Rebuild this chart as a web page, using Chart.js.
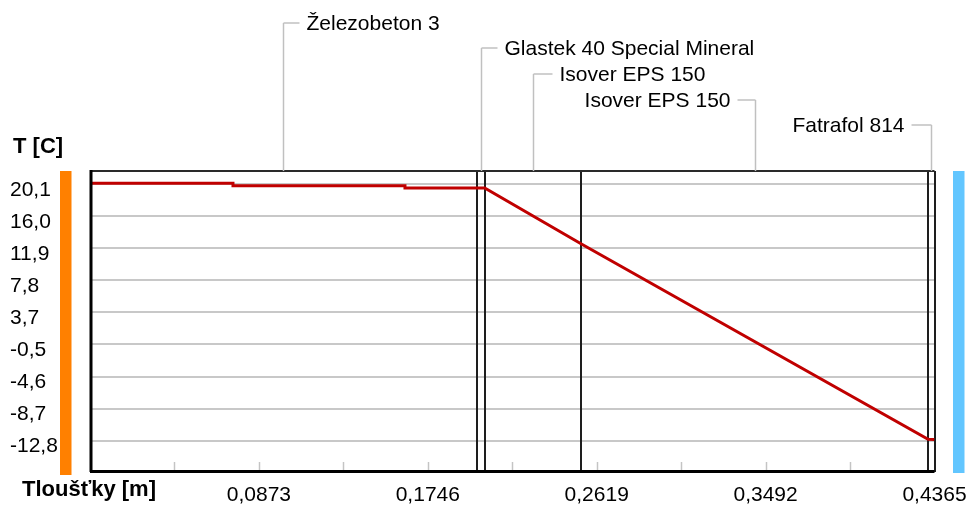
<!DOCTYPE html>
<html>
<head>
<meta charset="utf-8">
<script src="https://cdn.jsdelivr.net/npm/chart.js@4.4.1/dist/chart.umd.min.js"></script>
<style>
  html, body { margin: 0; padding: 0; background: #fff; }
  #wrap { width: 967px; height: 507px; }
</style>
</head>
<body>
<div id="wrap"><canvas id="profileChart" width="967" height="507"></canvas></div>
<script>
// Temperature profile through the wall layers

const layerNames = ['Železobeton 3', 'Glastek 40 Special Mineral', 'Isover EPS 150', 'Isover EPS 150', 'Fatrafol 814'];
const layerBounds = [0, 0.2, 0.204, 0.254, 0.4332, 0.4365];

const depth = [0, 0.0739, 0.0739, 0.1628, 0.1628, 0.204, 0.254, 0.4332, 0.4365];
const temperature = [20.18, 20.18, 19.87, 19.87, 19.57, 19.57, 12.4, -12.62, -12.65];

const xTickValues = [0.04365, 0.0873, 0.13095, 0.1746, 0.21825, 0.2619, 0.30555, 0.3492, 0.39285, 0.4365];
const xTickLabels = ['', '0,0873', '', '0,1746', '', '0,2619', '', '0,3492', '', '0,4365'];
const yTickValues = [20.1, 15.99, 11.88, 7.76, 3.65, -0.46, -4.58, -8.69, -12.8];
const yTickLabels = ['20,1', '16,0', '11,9', '7,8', '3,7', '-0,5', '-4,6', '-8,7', '-12,8'];

const FONT = "'Liberation Sans', Arial, sans-serif";
Chart.defaults.color = '#000';
Chart.defaults.font.family = FONT;

function seg(ctx, x1, y1, x2, y2) {
  ctx.beginPath();
  ctx.moveTo(x1, y1);
  ctx.lineTo(x2, y2);
  ctx.stroke();
}

const wallDecor = {
  id: 'wallDecor',
  beforeDatasetsDraw(chart) {
    const { ctx, chartArea: a, scales: { x } } = chart;
    ctx.save();
    // small ticks along the bottom edge
    ctx.strokeStyle = '#c4c4c4';
    ctx.lineWidth = 1.5;
    xTickValues.slice(0, -1).forEach(v => {
      const px = Math.round(x.getPixelForValue(v)) + 0.5;
      seg(ctx, px, a.bottom - 10, px, a.bottom);
    });
    // layer boundaries
    ctx.strokeStyle = '#1e1e1e';
    ctx.lineWidth = 2;
    layerBounds.slice(1).forEach(b => {
      const px = Math.round(x.getPixelForValue(b));
      seg(ctx, px, a.top, px, a.bottom);
    });
    ctx.restore();
  },
  afterDatasetsDraw(chart, args, opts) {
    const { ctx, chartArea: a, scales: { x } } = chart;
    ctx.save();
    // frame
    ctx.strokeStyle = '#2a2a2a';
    ctx.lineWidth = 2;
    seg(ctx, a.left, a.top, a.right, a.top);
    ctx.strokeStyle = '#000';
    ctx.lineWidth = 3;
    seg(ctx, a.left + 1, a.top - 1, a.left + 1, a.bottom);
    seg(ctx, a.left, a.bottom - 0.5, a.right, a.bottom - 0.5);

    // side bars: interior (warm) and exterior (cold)
    ctx.fillStyle = '#ff8000';
    ctx.fillRect(60, a.top, 11.5, a.bottom - a.top + 3);
    ctx.fillStyle = '#62c6ff';
    ctx.fillRect(953, a.top, 11.5, a.bottom - a.top + 1);

    // layer callouts
    ctx.font = '21px ' + FONT;
    ctx.textBaseline = 'middle';
    ctx.lineWidth = 1.5;
    opts.callouts.forEach((c, i) => {
      const mid = (layerBounds[i] + layerBounds[i + 1]) / 2;
      const px = Math.round(x.getPixelForValue(mid)) + 0.5;
      ctx.strokeStyle = '#c0c0c0';
      seg(ctx, px, a.top, px, c.y);
      const dir = c.side === 'right' ? 1 : -1;
      seg(ctx, px, c.y, px + dir * c.arm, c.y);
      ctx.fillStyle = '#000';
      ctx.textAlign = c.side === 'right' ? 'left' : 'right';
      ctx.fillText(layerNames[i], px + dir * (c.arm + 7), c.y + 1);
    });

    // axis titles
    ctx.font = 'bold 22px ' + FONT;
    ctx.textAlign = 'left';
    ctx.fillText('T [C]', 13, 147);
    ctx.fillText('Tloušťky [m]', 22, 490);
    ctx.restore();
  }
};

new Chart(document.getElementById('profileChart'), {
  type: 'line',
  data: {
    datasets: [{
      label: 'Teplota',
      data: depth.map((d, i) => ({ x: d, y: temperature[i] })),
      borderColor: '#c00000',
      borderWidth: 3,
      pointRadius: 0,
      tension: 0,
      fill: false
    }]
  },
  options: {
    responsive: false,
    animation: false,
    devicePixelRatio: 1,
    layout: { padding: { top: 171, left: 10, right: 32.5, bottom: 0 } },
    plugins: {
      legend: { display: false },
      tooltip: { enabled: false },
      wallDecor: {
        callouts: [
          { y: 23, side: 'right', arm: 16 },
          { y: 48, side: 'right', arm: 16 },
          { y: 74, side: 'right', arm: 19 },
          { y: 100, side: 'left', arm: 18 },
          { y: 125, side: 'left', arm: 20 }
        ]
      }
    },
    scales: {
      x: {
        type: 'linear',
        min: 0,
        max: 0.4365,
        afterBuildTicks: s => { s.ticks = xTickValues.map(v => ({ value: v })); },
        afterFit: s => { s.height = 35; s.paddingLeft = 0; s.paddingRight = 0; },
        grid: { display: false },
        border: { display: false },
        ticks: {
          autoSkip: false,
          maxRotation: 0,
          padding: 3,
          font: { size: 21 },
          callback: (v, i) => xTickLabels[i]
        }
      },
      y: {
        min: -16.81,
        max: 21.75,
        afterBuildTicks: s => { s.ticks = yTickValues.map(v => ({ value: v })); },
        afterFit: s => { s.width = 80; },
        grid: { color: '#c8c8c8', lineWidth: 2, drawTicks: false },
        border: { display: false },
        ticks: {
          crossAlign: 'far',
          labelOffset: 6,
          font: { size: 21 },
          callback: (v, i) => yTickLabels[i]
        }
      }
    }
  },
  plugins: [wallDecor]
});
</script>
</body>
</html>
